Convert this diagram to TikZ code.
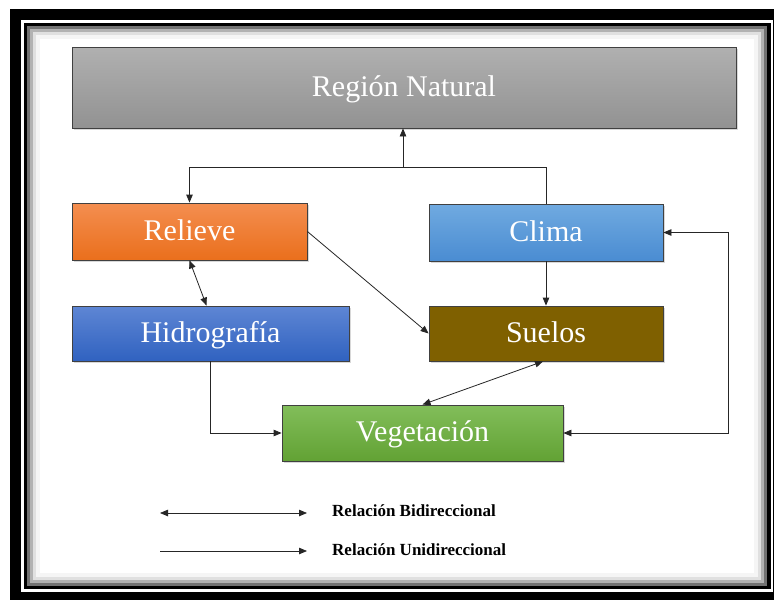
\documentclass[tikz,border=0pt]{standalone}
\usepackage{fontspec}
\setmainfont{Liberation Serif}
\usepackage{tikz}
\usetikzlibrary{arrows.meta, shadows}

\definecolor{grisA}{HTML}{B0B0B0}
\definecolor{grisB}{HTML}{929292}
\definecolor{naranjaA}{HTML}{F48E50}
\definecolor{naranjaB}{HTML}{EA6F1C}
\definecolor{celesteA}{HTML}{70AAE0}
\definecolor{celesteB}{HTML}{4A8CD2}
\definecolor{azulA}{HTML}{5E86D4}
\definecolor{azulB}{HTML}{3062C0}
\definecolor{cafe}{HTML}{7F6000}
\definecolor{verdeA}{HTML}{82BE5A}
\definecolor{verdeB}{HTML}{62A234}

\begin{document}
\begin{tikzpicture}[x=1pt, y=-1pt,
    >={Triangle[length=8pt, width=6.5pt]},
    caja/.style={draw=black!75, line width=0.8pt, text=white, inner sep=0pt,
        text height=22pt, text depth=5pt,
        font=\fontsize{30}{36}\selectfont,
        drop shadow={opacity=0.3, shadow xshift=2pt, shadow yshift=-2pt}},
    flecha/.style={draw=black!85, line width=0.8pt},
    leyenda/.style={font=\fontsize{17}{20}\selectfont\bfseries, anchor=west, inner sep=0pt}]
    \useasboundingbox (0,0) rectangle (774,600);

    % Marco
    \fill[black] (10,9) rectangle (776,600);
    \fill[white] (21,20) rectangle (773,592);
    \fill[black] (24,23) rectangle (771,589);
    \fill[black!55] (27,26) rectangle (767,586);
    \fill[black!30] (30,29) rectangle (764,583);
    \fill[black!12] (33,32) rectangle (761,580);
    \fill[black!4] (36,35) rectangle (758,577);
    \fill[white] (40,39) rectangle (754,573);

    % Cajas
    \node[caja, top color=grisA, bottom color=grisB, minimum width=664pt, minimum height=81pt]
        (region) at (404,87.5) {Región Natural};
    \node[caja, top color=naranjaA, bottom color=naranjaB, minimum width=235pt, minimum height=57pt]
        (relieve) at (189.5,231.5) {Relieve};
    \node[caja, top color=celesteA, bottom color=celesteB, minimum width=234pt, minimum height=57pt]
        (clima) at (546,232.5) {Clima};
    \node[caja, top color=azulA, bottom color=azulB, minimum width=277pt, minimum height=55pt]
        (hidro) at (210.5,333.5) {Hidrografía};
    \node[caja, fill=cafe, minimum width=234pt, minimum height=55pt]
        (suelos) at (546,333.5) {Suelos};
    \node[caja, top color=verdeA, bottom color=verdeB, minimum width=281pt, minimum height=56pt]
        (veget) at (422.5,433) {Vegetación};

    % Conexiones
    \coordinate (junta) at (403,167);
    \coordinate (lado) at (728,0);
    \draw[flecha] (clima.north) |- (junta);
    \draw[flecha, ->] (junta) -- (junta |- region.south);
    \draw[flecha, ->] (junta) -| (relieve.north);
    \draw[flecha, <->] (relieve.south) -- ([xshift=-4pt]hidro.north);
    \draw[flecha, ->] (relieve.east) -- (suelos.west);
    \draw[flecha, ->] (clima) -- (suelos);
    \draw[flecha, <->] ([xshift=-3pt]suelos.south) -- (veget.north);
    \draw[flecha, ->] (hidro.south) |- (veget.west);
    \draw[flecha, <->] (veget.east) -- (veget.east -| lado) -- (lado |- clima.east) -- (clima.east);

    % Leyenda
    \coordinate (bi1) at (160,513);
    \coordinate (bi2) at (307,513);
    \coordinate (uni1) at (160,551);
    \coordinate (uni2) at (307,551);
    \draw[flecha, <->] (bi1) -- (bi2);
    \draw[flecha, ->] (uni1) -- (uni2);
    \node[leyenda] (bitxt) at (332,511) {Relación Bidireccional};
    \node[leyenda] (unitxt) at (332,550) {Relación Unidireccional};
\end{tikzpicture}
\end{document}
